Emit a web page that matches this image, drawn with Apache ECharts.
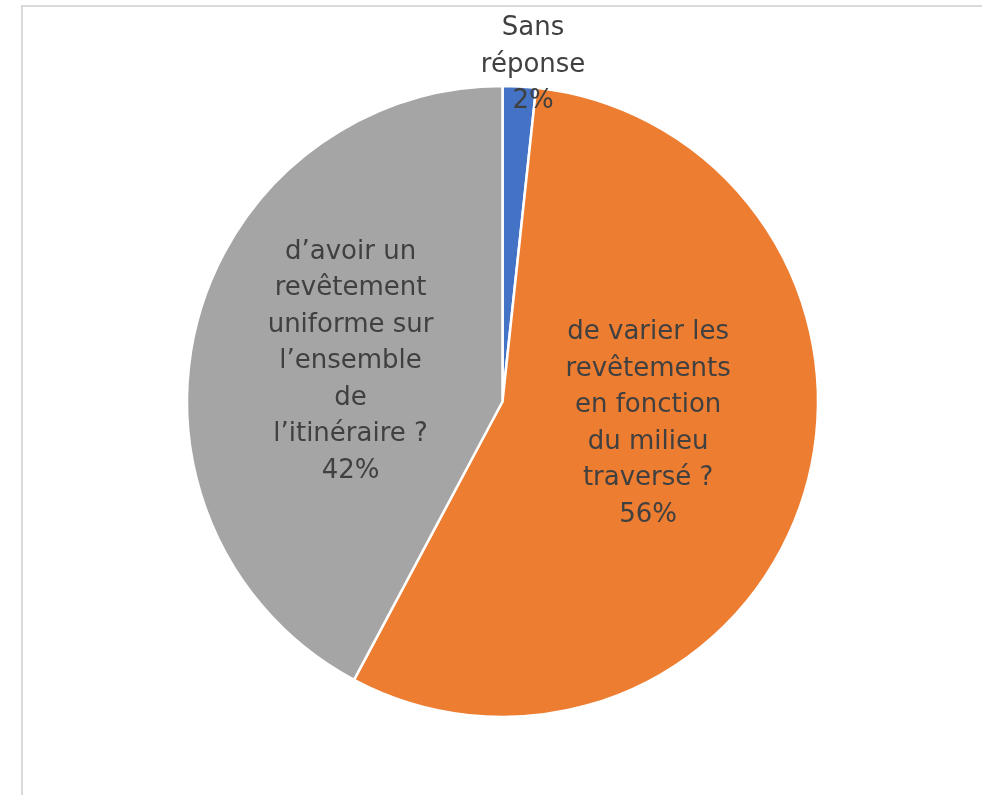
<!DOCTYPE html>
<html>
<head>
<meta charset="utf-8">
<script src="https://cdn.jsdelivr.net/npm/echarts@6/dist/echarts.min.js"></script>
<style>
html,body{margin:0;padding:0;background:#fff;}
#chart{width:982px;height:795px;}
</style>
</head>
<body>
<div id="chart"></div>
<script>
const categories = [
  "Sans\nréponse",
  "de varier les\nrevêtements\nen fonction\ndu milieu\ntraversé ?",
  "d’avoir un\nrevêtement\nuniforme sur\nl’ensemble\nde\nl’itinéraire ?"
];
const values = [1.7, 56.1, 42.2];
const colors = ["#4472C4", "#ED7D31", "#A5A5A5"];

const labelShift = [[22, -176], [-8, -25], [4, -1]];

const chart = echarts.init(document.getElementById('chart'), null, {renderer: 'canvas'});
chart.setOption({
  animation: false,
  backgroundColor: '#ffffff',
  graphic: [{
    type: 'rect',
    shape: {x: 22, y: 6, width: 1000, height: 1000},
    style: {fill: 'none', stroke: '#d9d9d9', lineWidth: 2},
    silent: true
  }],
  series: [{
    type: 'pie',
    center: [502.5, 401.5],
    radius: [0, 315.5],
    startAngle: 90,
    clockwise: true,
    percentPrecision: 0,
    data: categories.map((c, i) => ({name: c, value: values[i], itemStyle: {color: colors[i]}})),
    itemStyle: {borderColor: '#ffffff', borderWidth: 2.5},
    label: {
      show: true,
      position: 'inside',
      formatter: '{b}\n{d}%',
      color: '#404040',
      fontFamily: 'DejaVu Sans',
      fontSize: 26,
      lineHeight: 36.5,
      align: 'center'
    },
    labelLine: {show: false},
    labelLayout: function (p) {
      const s = labelShift[p.dataIndex];
      return {dx: s[0], dy: s[1]};
    },
    emphasis: {disabled: true}
  }]
});
</script>
</body>
</html>
